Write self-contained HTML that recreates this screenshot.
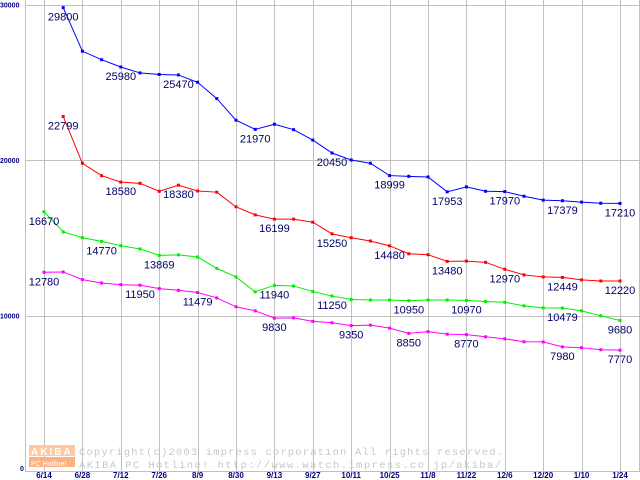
<!DOCTYPE html>
<html><head><meta charset="utf-8"><style>
body{margin:0;background:#fff;}
svg{display:block;font-family:"Liberation Sans",sans-serif;}
</style></head><body>
<svg id="chart" width="640" height="480" viewBox="0 0 640 480" xmlns="http://www.w3.org/2000/svg"></svg>
<script>
const xTickLabels = ["6/14","6/28","7/12","7/26","8/9","8/30","9/13","9/27","10/11","10/25","11/8","11/22","12/6","12/20","1/10","1/24"];
const yTickValues = [0,10000,20000,30000];
const blueValues = [null,29800,27000,26450,25980,25600,25500,25470,25000,23950,22560,21970,22300,21950,21280,20450,20000,19790,18999,18950,18910,17953,18270,17990,17970,17670,17420,17379,17290,17220,17210];
const redValues = [null,22799,19790,18990,18580,18500,17990,18380,18010,17930,16990,16470,16199,16200,16000,15250,15000,14790,14480,13970,13910,13480,13500,13420,12970,12610,12480,12449,12290,12220,12220];
const greenValues = [16670,15380,15000,14770,14490,14280,13869,13900,13760,13030,12480,11520,11940,11900,11540,11250,11030,11000,11000,10950,11000,11000,10970,10900,10850,10620,10490,10479,10300,9980,9680];
const magentaValues = [12780,12800,12310,12090,11980,11950,11730,11620,11479,11130,10560,10300,9830,9850,9620,9530,9350,9380,9190,8850,8960,8800,8770,8630,8500,8310,8300,7980,7930,7800,7770];
const blueLabels = [1,4,7,11,15,18,21,24,27,30];
const redLabels = [1,4,7,12,15,18,21,24,27,30];
const greenLabels = [0,3,6,12,15,19,22,27,30];
const magentaLabels = [0,5,8,12,16,19,22,27,30];

const NS="http://www.w3.org/2000/svg";
const svg=document.getElementById('chart');
function xPos(i){return 44+19.2*i;}
function yPos(v){return 471-v*0.01555;}
function mk(tag,attrs,parent){const e=document.createElementNS(NS,tag);for(const k in attrs)e.setAttribute(k,attrs[k]);(parent||svg).appendChild(e);return e;}

const grid=mk('g',{});


for(let k=0;k<xTickLabels.length;k++){
  const x=Math.round(xPos(2*k))+0.5;
  mk('line',{x1:x,y1:0,x2:x,y2:471,stroke:'#c0c0c0','stroke-width':1},grid);
}
mk('line',{x1:639.5,y1:0,x2:639.5,y2:471,stroke:'#c0c0c0'},grid);
yTickValues.forEach(v=>{
  const y=Math.round(yPos(v))+0.5;
  mk('line',{x1:25,y1:y,x2:640,y2:y,stroke:'#c0c0c0'},grid);
});
mk('line',{x1:25.5,y1:0,x2:25.5,y2:471,stroke:'#c0c0c0'},grid);

const wm=mk('g',{});


mk('rect',{x:29,y:445,width:46,height:11,fill:'#ffc8a0'},wm);
mk('rect',{x:29,y:457,width:46,height:10,fill:'#ffb080'},wm);
let t=mk('text',{x:31,y:455,'font-size':10,fill:'#fff','font-weight':'bold','letter-spacing':'2'},wm);t.textContent='AKIBA';
t=mk('text',{x:31,y:466,'font-size':7,fill:'#fff'},wm);t.textContent='PC Hotline!';
t=mk('text',{x:79,y:455,'font-size':10.5,fill:'#c8c8c8','font-family':'Liberation Mono, monospace','textLength':424},wm);t.textContent='Copyright(c)2003 impress corporation All rights reserved.';
t=mk('text',{x:79,y:468,'font-size':10.5,fill:'#c8c8c8','font-family':'Liberation Mono, monospace','textLength':422},wm);t.textContent='AKIBA PC Hotline!  http://www.watch.impress.co.jp/akiba/';

yTickValues.forEach(v=>{
  const e=mk('text',{x:v===0?20:0,y:Math.min(Math.max(yPos(v)+3,7),471),'font-size':7,'font-weight':'bold',fill:'#000080'});
  
  
  e.textContent=String(v);
});
xTickLabels.forEach((s,k)=>{
  const e=mk('text',{x:xPos(2*k),y:478,'font-size':8,'font-weight':'bold','text-anchor':'middle',fill:'#000080'});
  
  
  e.textContent=s;
});

function drawSeries(vals,labels,color,name){
  const g=mk('g',{});
  
  
  const pts=[];
  vals.forEach((v,i)=>{if(v!==null)pts.push([xPos(i),yPos(v)]);});
  const pl=mk('polyline',{points:pts.map(p=>p.join(',')).join(' '),fill:'none',stroke:color,'stroke-width':1},g);
  
  
  vals.forEach((v,i)=>{
    if(v===null)return;
    const r=mk('rect',{x:xPos(i)-1.5,y:yPos(v)-1.5,width:3,height:3,fill:color},g);
    
    
  });
  labels.forEach(i=>{
    const e=mk('text',{x:xPos(i),y:yPos(vals[i])+13,'font-size':11,'text-anchor':'middle',fill:'#000066'},g);
    
    
    e.textContent=String(vals[i]);
  });
}
drawSeries(blueValues,blueLabels,'#0000ff','blue');
drawSeries(redValues,redLabels,'#ff0000','red');
drawSeries(greenValues,greenLabels,'#00ee00','green');
drawSeries(magentaValues,magentaLabels,'#ff00ff','magenta');
</script>
</body></html>
